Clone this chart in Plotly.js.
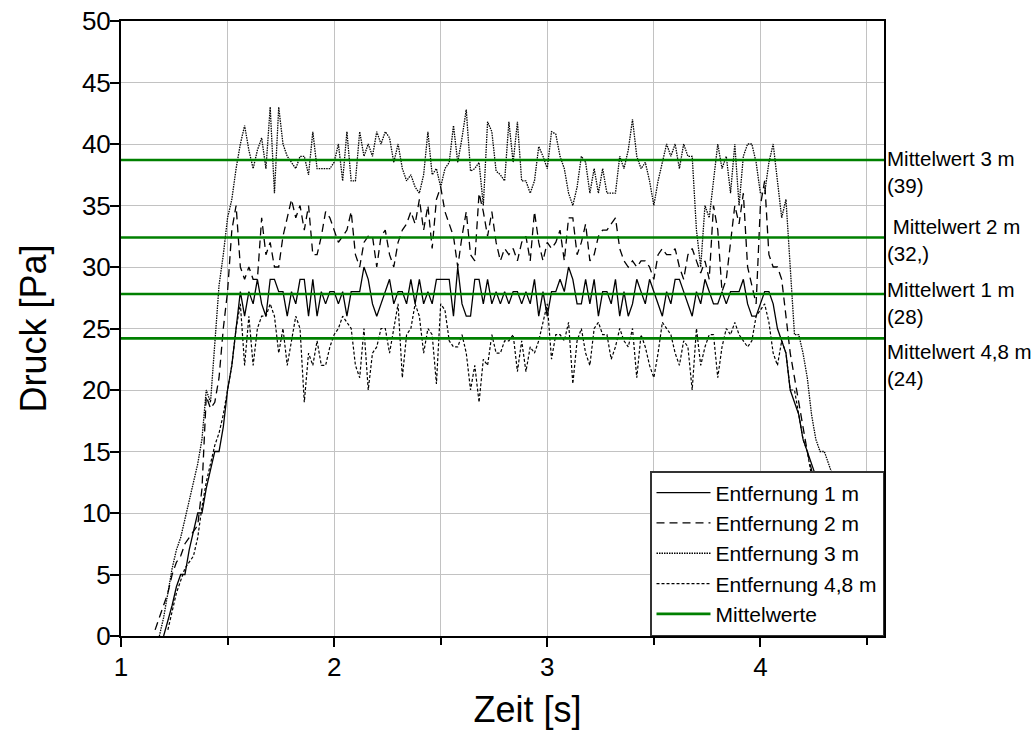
<!DOCTYPE html>
<html>
<head>
<meta charset="utf-8">
<script src="https://cdn.plot.ly/plotly-3.0.1.min.js"></script>
<style>
  html, body { margin: 0; padding: 0; background: #ffffff; }
  #chart { width: 1035px; height: 733px; }
</style>
</head>
<body>
<div id="chart"></div>
<script>
// Messreihe: Druckverlauf, abgetastet alle 20 ms ab t = 1,14 s
const SAMPLE_START = 1.14;   // s
const SAMPLE_STEP = 0.02;    // s

// Entfernung 1 m [Pa]
const druck1m = [
  null, null, null, 0, 1.2, 2.5, 4, 5, 5, 7,
  8.5, 10, 10, 12, 13.5, 15, 15, 17, 20, 22,
  25, 28, 26, 28, 27, 29, 27, 26, 29, 29,
  28, 28, 26, 28, 27, 29, 29, 26, 29, 26,
  28, 27, 28, 28, 27, 28, 26, 28, 28, 28,
  30, 29, 27, 26, 27, 28, 29, 27, 28, 28,
  27, 29, 27, 29, 27, 28, 27, 29, 29, 29,
  29, 26, 30, 27, 26, 26, 29, 29, 27, 29,
  27, 28, 27, 28, 27, 28, 28, 27, 28, 27,
  29, 26, 28, 26, 28, 28, 29, 28, 30, 29,
  27, 27, 29, 27, 29, 26, 28, 28, 27, 29,
  26, 28, 26, 27, 29, 28, 27, 29, 28, 27,
  26, 28, 27, 29, 29, 28, 27, 26, 28, 27,
  29, 28, 27, 27, 28, 27, 28, 28, 28, 29,
  27, 26, 26, 27, 28, 28, 27, 25, 24, 23,
  20, 19, 18, 16, 15, 14, 13, 11, 9, 7,
  5, 3, 1, 0
];

// Entfernung 2 m [Pa]
const druck2m = [
  null, 0.5, 1.5, 2.6, 3.5, 5, 6, 6.5, 7.5, 8,
  8.5, 9, 12, 19.5, 18.5, 19, 21, 25, 28, 33,
  35, 30, 29, 30, 29, 29, 34, 31, 32, 30,
  30, 32.5, 34, 35.5, 34, 35, 33, 35, 31, 31,
  32.5, 34.5, 34, 33, 32, 32.5, 33, 34.5, 31, 30,
  32, 32.5, 32.5, 30, 32.5, 33, 31, 30, 32, 33,
  33.5, 34.5, 33.5, 35.5, 33, 35, 31.5, 35.5, 36.5, 34.5,
  33.5, 32.5, 30, 32.5, 34.5, 31, 30.5, 36, 34.5, 32.5,
  34.5, 32, 30.5, 31.5, 31, 31.5, 30.5, 32, 32.5, 30.5,
  34.5, 32, 30.5, 32, 31.5, 32, 33, 30.5, 34, 34,
  31, 32, 33.5, 30.5, 31, 32.5, 33, 33, 33.5, 34,
  31.5, 30.5, 30, 30.5, 30, 30.5, 30.5, 30, 29, 31,
  31.5, 31, 31, 31.5, 30, 29, 31, 31.5, 30.5, 29.5,
  30.5, 29, 35, 33, 28, 29, 32, 35, 33.5, 36,
  30, 28.5, 27, 35, 37, 31, 30, 30, 29, 26,
  23, 21, 19, 17, 15, 13.5, 12, 10, 8, 6,
  3, 1, 0, null
];

// Entfernung 3 m [Pa]
const druck3m = [
  null, null, 0, 1.5, 3.5, 5.5, 7, 8, 9.5, 11,
  12.5, 14, 16, 20, 19, 24, 28.5, 31, 34, 35.5,
  38, 40, 41.5, 39.5, 38, 39.5, 40.5, 38, 43, 36,
  43, 40, 39, 38.5, 38, 39, 39, 37.5, 41, 38,
  38, 38, 38, 38.5, 40, 37, 41, 37, 37, 41,
  39, 40, 39, 41, 40, 41, 40.5, 38.5, 40, 38,
  37, 37.5, 36.5, 36, 37.5, 41, 37.5, 38, 36.5, 38,
  38.5, 41.5, 38.5, 40.5, 42.8, 37.8, 38, 38.5, 35, 41.8,
  41, 37.8, 37.5, 37, 41.8, 38.5, 41.8, 37, 37, 36,
  37, 39.8, 39, 38, 41, 40.8, 39, 38, 36, 35,
  36.5, 39, 38.5, 36, 38, 36, 38, 36, 36, 36,
  39, 38, 39.5, 42, 39, 38, 38.5, 37, 35, 37,
  38.5, 40, 39, 40, 38, 40, 39, 39, 33, 30,
  35, 34, 37, 40, 38, 39, 36, 40, 35, 39,
  40, 40, 38.5, 36, 36, 38.5, 40, 37, 34, 35.5,
  30, 24.5, 24.5, 23, 21, 18, 16, 15, 15, 14,
  13, 12, 10, 8
];

// Entfernung 4,8 m [Pa]
const druck48m = [
  null, null, null, null, 0.5, 2, 3.5, 4.5, 5.5, 6,
  6.5, 8, 10.5, 12.5, 14, 15.5, 16.5, 18, 20, 22,
  25, 27, 22, 26, 22, 25, 26, 26, 27, 26,
  23, 25, 22, 24, 26, 25, 19, 23, 22, 24,
  22, 22, 23.5, 24.5, 25, 26, 25.5, 25, 22, 21,
  25, 20, 23, 23.5, 25, 25, 23, 25, 27, 21,
  24.5, 25, 27, 26, 23, 25, 24.5, 20.5, 27, 26.5,
  24, 23.5, 23.5, 24.5, 23, 20, 22, 19, 22.5, 22,
  24.5, 23, 23, 24, 24, 24.5, 21.5, 24, 21.5, 23.5,
  23, 24, 25.5, 27, 22.5, 24.5, 24.5, 24, 25.5, 20.5,
  24, 25, 23, 22, 25, 25.5, 24.5, 24.5, 22.5, 23.5,
  25, 24, 23.5, 25, 21, 24.5, 23.5, 22, 21, 23,
  25.5, 25, 24.5, 23, 22, 24, 23.5, 20, 25, 22,
  23.5, 24.5, 24.5, 21, 23.5, 25, 24.5, 25.5, 24.5, 24,
  23.5, 24, 26, 26.5, 27, 25.5, 23, 22, 24, 23,
  20, 20, 18, 16, 15, 13, 12, 10, 8, 6,
  4, 2, 0, null
];

// Mittelwerte [Pa] und Beschriftung
const mittelwerte = [38.7, 32.4, 27.8, 24.2];
const mittelLabels = [
  'Mittelwert 3 m<br>(39)',
  '\u00a0Mittelwert 2 m<br>(32,)',
  'Mittelwert 1 m<br>(28)',
  'Mittelwert 4,8 m<br>(24)'
];
const labelShift = [-12, -3, -9, -27];

const reihenNamen = ['Entfernung 1 m', 'Entfernung 2 m', 'Entfernung 3 m', 'Entfernung 4,8 m'];

const zeit = druck1m.map((_, i) => +(SAMPLE_START + i * SAMPLE_STEP).toFixed(2));

const GREEN = '#008000';
const FONT = 'Arial, "Liberation Sans", sans-serif';

const lineStyles = [
  { color: '#000000', width: 1.3 },
  { color: '#000000', width: 1.3, dash: '8px,5px' },
  { color: '#000000', width: 1.3, dash: '1.5px,1px' },
  { color: '#000000', width: 1.2, dash: '3px,2px' }
];

const traces = [druck1m, druck2m, druck3m, druck48m].map((werte, k) => ({
  type: 'scatter',
  mode: 'lines',
  x: zeit,
  y: werte,
  name: reihenNamen[k],
  line: lineStyles[k],
  connectgaps: false,
  hoverinfo: 'x+y+name'
}));

// Legendeneintrag für die Mittelwertlinien
traces.push({
  type: 'scatter',
  mode: 'lines',
  x: [null],
  y: [null],
  name: 'Mittelwerte',
  line: { color: GREEN, width: 2.6 }
});

const shapes = mittelwerte.map(m => ({
  type: 'line',
  xref: 'paper', x0: 0, x1: 1,
  yref: 'y', y0: m, y1: m,
  line: { color: GREEN, width: 2.6 },
  layer: 'above'
}));

const annotations = mittelwerte.map((m, k) => ({
  xref: 'paper', x: 1, xanchor: 'left', xshift: 1,
  yref: 'y', y: m, yanchor: 'middle', yshift: labelShift[k],
  text: mittelLabels[k],
  align: 'left',
  showarrow: false,
  font: { family: FONT, size: 20.5, color: '#000000' }
}));

const gridColor = '#c2c2c2';

const layout = {
  width: 1035,
  height: 733,
  margin: { l: 121, r: 151, t: 21, b: 97 },
  paper_bgcolor: '#ffffff',
  plot_bgcolor: '#ffffff',
  font: { family: FONT, color: '#000000' },
  showlegend: true,
  xaxis: {
    range: [1, 4.58],
    tick0: 1,
    dtick: 1,
    ticks: 'outside',
    ticklen: 9,
    tickwidth: 2,
    tickcolor: '#000000',
    ticklabelstandoff: -2,
    showgrid: true,
    gridcolor: gridColor,
    gridwidth: 1,
    zeroline: false,
    showline: true,
    linecolor: '#000000',
    linewidth: 2,
    mirror: true,
    tickfont: { family: FONT, size: 26, color: '#000000' },
    minor: {
      tick0: 1,
      dtick: 0.5,
      ticks: 'outside',
      ticklen: 7,
      tickwidth: 2,
      tickcolor: '#000000',
      showgrid: true,
      gridcolor: gridColor,
      gridwidth: 1
    },
    title: {
      text: '\u200b\u00a0\u00a0\u00a0\u00a0\u00a0Zeit [s]',
      font: { family: FONT, size: 36, color: '#000000' },
      standoff: 16
    }
  },
  yaxis: {
    range: [0, 50],
    tick0: 0,
    dtick: 5,
    ticks: 'outside',
    ticklen: 9,
    tickwidth: 2,
    tickcolor: '#000000',
    ticklabelstandoff: -6,
    showgrid: true,
    gridcolor: gridColor,
    gridwidth: 1,
    zeroline: false,
    showline: true,
    linecolor: '#000000',
    linewidth: 2,
    mirror: true,
    tickfont: { family: FONT, size: 26, color: '#000000' },
    title: { text: 'Druck [Pa]', font: { family: FONT, size: 36, color: '#000000' }, standoff: 24 }
  },
  legend: {
    x: 1,
    xanchor: 'right',
    y: 0,
    yanchor: 'bottom',
    bgcolor: '#ffffff',
    bordercolor: '#333333',
    borderwidth: 1.5,
    font: { family: FONT, size: 21, color: '#000000' },
    tracegroupgap: 0,
    itemwidth: 54
  },
  shapes: shapes,
  annotations: annotations
};

Plotly.newPlot('chart', traces, layout, { displayModeBar: false, staticPlot: true });
</script>
</body>
</html>
